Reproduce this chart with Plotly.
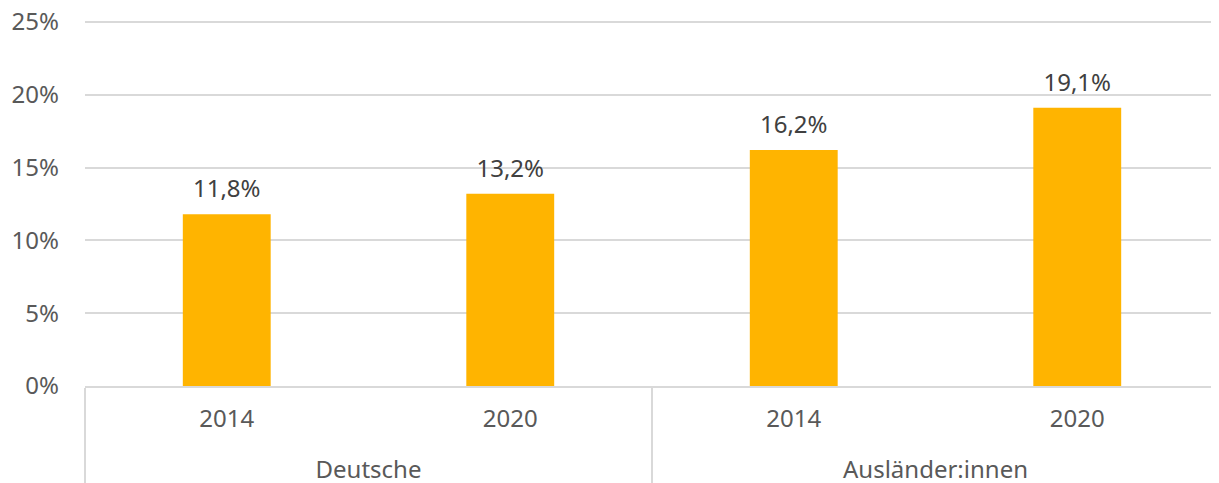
import plotly.graph_objects as go

groups = ["Deutsche", "Deutsche", "Ausländer:innen", "Ausländer:innen"]
years = ["2014", "2020", "2014", "2020"]
shares = [0.118, 0.132, 0.162, 0.191]
y_ticks = [0, 0.05, 0.10, 0.15, 0.20, 0.25]

font_family = "Noto Sans"

# a small blank second line under the years pushes the group row further down
year_labels = [y + "<br><span style='font-size:6px'>&nbsp;</span>" for y in years]

fig = go.Figure()

fig.add_trace(go.Bar(
    x=[groups, year_labels],
    y=shares,
    marker=dict(color="#FFB400", line=dict(width=0)),
    width=0.31,
    hoverinfo="skip",
))

# value labels, lifted a bit above the bars
fig.add_trace(go.Scatter(
    x=[groups, year_labels],
    y=shares,
    mode="markers+text",
    marker=dict(size=16, color="rgba(0,0,0,0)"),
    text=[f"{v*100:.1f}".replace(".", ",") + "%" for v in shares],
    textposition="top center",
    textfont=dict(family=font_family, size=24, color="#404040"),
    hoverinfo="skip",
    cliponaxis=False,
))

# page body adds an 8px offset, so the figure is 8px smaller on each side
fig.update_layout(
    width=1211,
    height=475,
    margin=dict(l=77, r=0, t=11, b=97, autoexpand=False),
    paper_bgcolor="white",
    plot_bgcolor="white",
    showlegend=False,
    separators=",.",
    font=dict(family=font_family, size=24, color="#595959"),
)

fig.update_yaxes(
    range=[0, 0.252],
    tickvals=y_ticks,
    tickformat=".0%",
    showgrid=True,
    gridcolor="#D9D9D9",
    gridwidth=1.5,
    zeroline=False,
    showline=False,
    ticks="",
    ticklabelstandoff=25,
    ticklabeloverflow="allow",
    automargin=False,
    tickfont=dict(size=24, color="#595959"),
)

fig.update_xaxes(
    type="multicategory",
    showline=True,
    linecolor="#D9D9D9",
    linewidth=1.5,
    showdividers=True,
    dividercolor="#D9D9D9",
    dividerwidth=1.5,
    ticks="",
    ticklabelstandoff=10,
    automargin=False,
    tickfont=dict(size=24, color="#595959"),
)

fig.write_html("out.html")
